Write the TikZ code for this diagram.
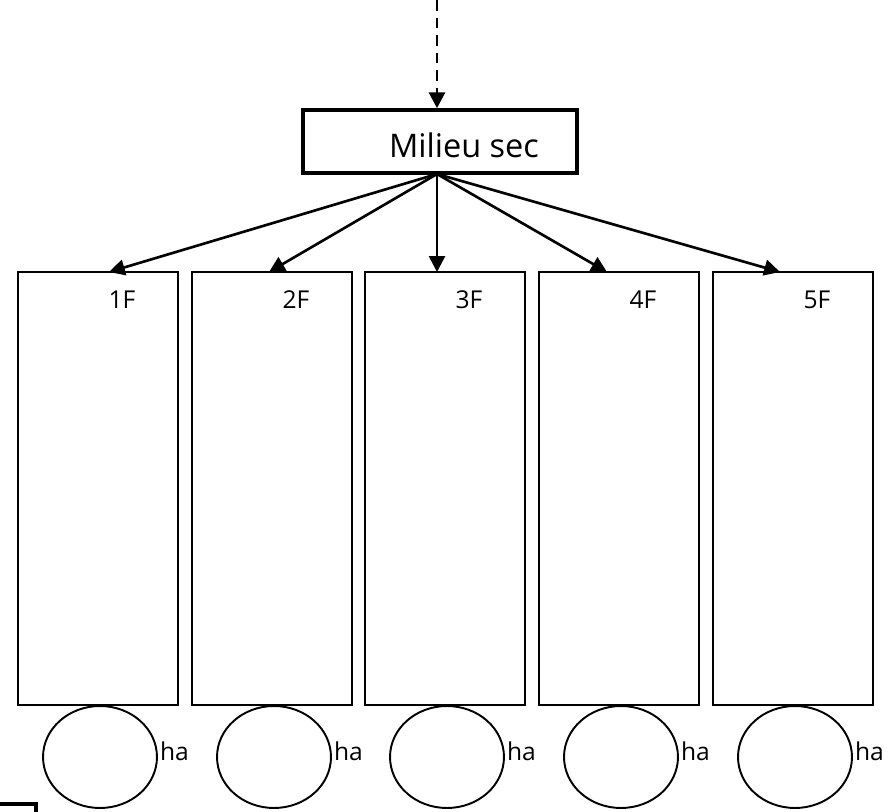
\documentclass[tikz,border=0pt]{standalone}
\usepackage{fontspec}
\setmainfont{Open Sans}
\usetikzlibrary{arrows.meta,shapes.geometric}
\begin{document}
\begin{tikzpicture}[x=0.02cm,y=-0.02cm,
    fbox/.style={draw,line width=1.1pt,minimum width=3.2cm,minimum height=8.66cm,inner sep=0pt},
    hbox/.style={draw,ellipse,line width=1.1pt,minimum width=2.28cm,minimum height=2.04cm,inner sep=0pt},
    flab/.style={font=\fontsize{14}{16}\selectfont},
    arr/.style={line width=1.5pt,-{Triangle[length=9pt,width=9pt]}}]
\useasboundingbox (0,0) rectangle (890,812);

\def\LINECOLOR{black}
	\node[draw=\LINECOLOR,line width=2pt,minimum width=5.48cm,minimum height=1.26cm] (milieu) at (440,141.5) {};
	\node[font=\fontsize{18.5}{20}\selectfont] (milieutxt) at (464,145) {Milieu sec};
	\coordinate (src) at (437,0);
	\draw[arr,line width=1.7pt,dash pattern=on 6pt off 4pt] (src) -- (milieu.north -| src);

	\node[fbox] (f1) at (98,488.5) {};
	\node[fbox] (f2) at (272,488.5) {};
	\node[fbox] (f3) at (445,488.5) {};
	\node[fbox] (f4) at (619,488.5) {};
	\node[fbox] (f5) at (793,488.5) {};

	\node[flab] (l1) at (122,300) {1F};
	\node[flab] (l2) at (296,300) {2F};
	\node[flab] (l3) at (469,300) {3F};
	\node[flab] (l4) at (643,300) {4F};
	\node[flab] (l5) at (817,300) {5F};

	\coordinate (fan) at (437,174);
	\coordinate (t1) at (109,272);
	\coordinate (t2) at (269,272);
	\coordinate (t3) at (437,272);
	\coordinate (t4) at (607,272);
	\coordinate (t5) at (780,272);
	\draw[arr] (fan) -- (t1);
	\draw[arr] (fan) -- (t2);
	\draw[arr] (fan) -- (t3);
	\draw[arr] (fan) -- (t4);
	\draw[arr] (fan) -- (t5);

	\node[hbox] (h1) at (100,757) {};
	\node[hbox] (h2) at (274,757) {};
	\node[hbox] (h3) at (447,757) {};
	\node[hbox] (h4) at (621,757) {};
	\node[hbox] (h5) at (795,757) {};

	\node[flab,anchor=west,inner sep=1pt,yshift=0.12cm] (a1) at (h1.east) {ha};
	\node[flab,anchor=west,inner sep=1pt,yshift=0.12cm] (a2) at (h2.east) {ha};
	\node[flab,anchor=west,inner sep=1pt,yshift=0.12cm] (a3) at (h3.east) {ha};
	\node[flab,anchor=west,inner sep=1pt,yshift=0.12cm] (a4) at (h4.east) {ha};
	\node[flab,anchor=west,inner sep=1pt,yshift=0.12cm] (a5) at (h5.east) {ha};

	\draw[line width=2pt] (-5,804) rectangle (36,840);
\end{tikzpicture}
\end{document}
